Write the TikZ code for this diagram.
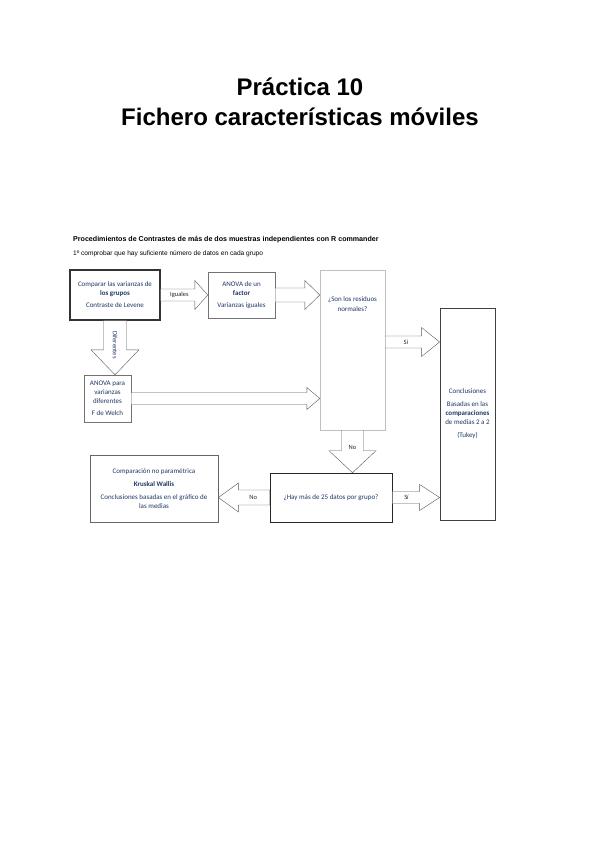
\documentclass[tikz,border=0pt]{standalone}
\usepackage{fontspec}
\setmainfont{Liberation Sans}
\newfontfamily\cuerpo{Carlito}
\usetikzlibrary{calc,positioning}

\definecolor{azul}{HTML}{1F3864}

\begin{document}
\begin{tikzpicture}[
	x = 1pt, y = -1pt, % pixel grid of the page
	caja/.style={rectangle, draw=black!55, fill=white, align=center, inner sep=1pt, font=\cuerpo\fontsize{7}{9}\selectfont, text=azul},
	txt/.style={align=center, inner sep=0pt, font=\cuerpo\fontsize{7}{10}\selectfont, text=azul},
	etq/.style={inner sep=0pt, font=\cuerpo\fontsize{6.5}{7}\selectfont, text=black!85},
	% block arrow: half shaft, half head, head length
	bloque/.style n args={3}{draw=black!65, fill=white, line join=miter, to path={
		($(\tikztotarget)!#3!(\tikztostart)$) coordinate (bq)
		($(\tikztostart)!#1!90:(\tikztotarget)$) -- ($(bq)!#1!90:(\tikztotarget)$)
		-- ($(bq)!#2!90:(\tikztotarget)$) -- (\tikztotarget)
		-- ($(bq)!#2!-90:(\tikztotarget)$) -- ($(bq)!#1!-90:(\tikztotarget)$)
		-- ($(\tikztostart)!#1!-90:(\tikztotarget)$) -- cycle}},
	]
	\useasboundingbox (0,0) rectangle (599,848);

	% title and heading
	\node[align=center, font=\bfseries\fontsize{24}{30}\selectfont] (titulo) at (300,102) {Práctica 10\\Fichero características móviles};
	\node[anchor=west, inner sep=0pt, font=\bfseries\fontsize{7.1}{8}\selectfont] (cab) at (73,240) {Procedimientos de Contrastes de más de dos muestras independientes con R commander};
	\node[anchor=west, inner sep=0pt, font=\fontsize{6.6}{8}\selectfont] (cab2) at (73,254) {1º comprobar que hay suficiente número de datos en cada grupo};

	% boxes
	\node[caja, draw=black!80, line width=1.2pt, minimum width=90pt, minimum height=50pt] (levene) at (115,295)
		{Comparar las varianzas de\\ \textbf{los grupos}\\[3pt] Contraste de Levene};
	\node[caja, minimum width=67pt, minimum height=46pt] (anova) at (241.5,295)
		{ANOVA de un\\ \textbf{factor}\\[3pt] Varianzas iguales};
	\node[caja, draw=black!25, minimum width=65pt, minimum height=160pt] (resid) at (352.5,350) {};
	\node[txt, below=27pt of resid.north] (residtxt) {¿Son los residuos\\normales?};
	\node[caja, minimum width=47pt, minimum height=47pt] (welch) at (107.5,398.5)
		{ANOVA para\\ varianzas\\ diferentes\\[3pt] F de Welch};
	\node[caja, draw=black!75, line width=0.8pt, minimum width=55pt, minimum height=212pt] (concl) at (467.5,414)
		{Conclusiones\\[4pt] Basadas en las\\ \textbf{comparaciones}\\ de medias 2 a 2\\[4pt] (Tukey)};
	\node[caja, draw=black!85, line width=0.6pt, minimum width=122pt, minimum height=49pt] (datos) at (331,497.5)
		{¿Hay más de 25 datos por grupo?};
	\node[caja, draw=black!60, line width=0.8pt, minimum width=128pt, minimum height=67pt] (kruskal) at (154,488.5)
		{Comparación no paramétrica\\[4pt] \textbf{Kruskal Wallis}\\[4pt] Conclusiones basadas en el gráfico de\\ las medias};

	% arrows
	\coordinate (s1) at ([yshift=8pt]resid.east);
	\draw[bloque={6pt}{14.5pt}{13pt}] (levene.east) to (anova.west);
	\draw[bloque={7pt}{14.5pt}{15pt}] (anova.east) to (anova.east -| resid.west);
	\draw[bloque={6pt}{14.5pt}{18pt}] (s1) to (s1 -| concl.west);
	\draw[bloque={11.5pt}{24pt}{25pt}] (levene.south) to (levene.south |- welch.north);
	\draw[bloque={6pt}{11pt}{13pt}] (welch.east) to (welch.east -| resid.west);
	\draw[bloque={11pt}{23.5pt}{22pt}] (resid.south) to (resid.south |- datos.north);
	\draw[bloque={7.5pt}{14.5pt}{20pt}] (datos.west) to (datos.west -| kruskal.east);
	\draw[bloque={6pt}{13pt}{20pt}] (datos.east) to (datos.east -| concl.west);

	% arrow labels
	\node[etq] (l1) at ($(levene.east)!0.4!(anova.west)$) {Iguales};
	\node[etq, text=azul, rotate=-90] (l2) at ($(levene.south)!0.45!(levene.south |- welch.north)$) {Diferentes};
	\node[etq] (l3) at ($(s1)!0.38!(s1 -| concl.west)$) {Sí};
	\node[etq] (l4) at ($(resid.south)!0.4!(resid.south |- datos.north)$) {No};
	\node[etq] (l5) at ($(datos.west)!0.32!(datos.west -| kruskal.east)$) {No};
	\node[etq] (l6) at ($(datos.east)!0.3!(datos.east -| concl.west)$) {Sí};

\end{tikzpicture}
\end{document}
